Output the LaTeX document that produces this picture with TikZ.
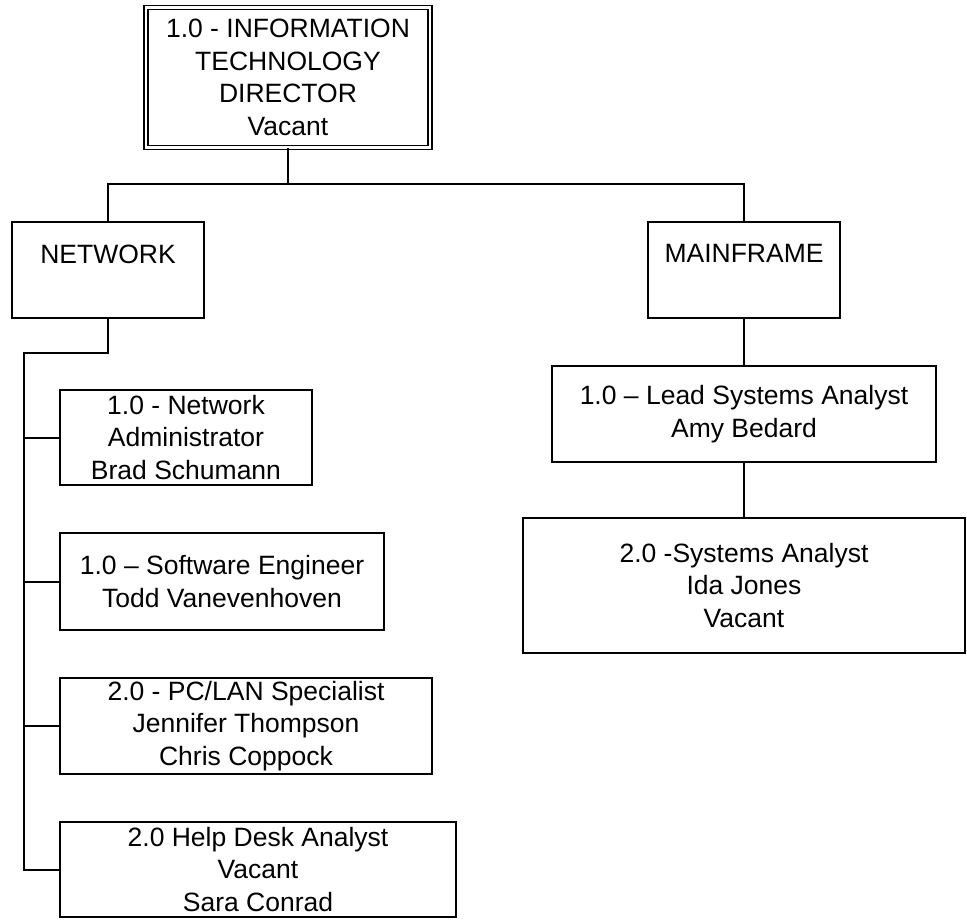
\documentclass[tikz,border=0pt]{standalone}
\usepackage{fontspec}
\setmainfont{Liberation Sans}
\begin{document}
\begin{tikzpicture}[x=1pt,y=-1pt,
  every node/.style={font=\fontsize{26.5}{32.5}\selectfont, align=center, inner sep=0pt},
  box/.style={draw, line width=2pt, rectangle},
  dbox/.style={draw, line width=1.7pt, double, double distance=2.5pt, rectangle},
  conn/.style={line width=2pt}]
\useasboundingbox (0,0) rectangle (967,923);
\node[dbox, minimum width=284pt, minimum height=140pt] (top) at (288,77.5)
  {1.0 - INFORMATION\\TECHNOLOGY\\DIRECTOR\\Vacant};
\node[box, minimum width=192pt, minimum height=96pt] (net) at (108,270) {NETWORK\\\mbox{}};
\node[box, minimum width=192pt, minimum height=96pt] (mf) at (744,270) {MAINFRAME\\\mbox{}};
\node[box, minimum width=252pt, minimum height=95pt] (b1) at (186,437.5)
  {1.0 - Network\\Administrator\\Brad Schumann};
\node[box, minimum width=324pt, minimum height=97pt] (b2) at (222,581.5)
  {1.0 -- Software Engineer\\Todd Vanevenhoven};
\node[box, minimum width=372pt, minimum height=96pt] (b3) at (246,726)
  {2.0 - PC/LAN Specialist\\Jennifer Thompson\\Chris Coppock};
\node[box, minimum width=396pt, minimum height=95pt] (b4) at (258,869.5)
  {2.0 Help Desk Analyst\\Vacant\\Sara Conrad};
\node[box, minimum width=384pt, minimum height=96pt] (lead) at (744,414)
  {1.0 -- Lead Systems Analyst\\Amy Bedard};
\node[box, minimum width=442pt, minimum height=135pt] (sa) at (744,585.5)
  {2.0 -Systems Analyst\\Ida Jones\\Vacant};
\coordinate (hl) at (108,184);
\coordinate (hr) at (744,184);
\coordinate (sp) at (24,353);
\draw[conn] (top.south) -- (top.south |- hl);
\draw[conn] (net.north) -- (hl) -- (hr) -- (mf.north);
\draw[conn] (net.south) |- (sp) -- (sp |- b4.west) -- (b4.west);
\draw[conn] (sp |- b1.west) -- (b1.west);
\draw[conn] (sp |- b2.west) -- (b2.west);
\draw[conn] (sp |- b3.west) -- (b3.west);
\draw[conn] (mf.south) -- (lead.north);
\draw[conn] (lead.south) -- (sa.north);
\end{tikzpicture}
\end{document}
